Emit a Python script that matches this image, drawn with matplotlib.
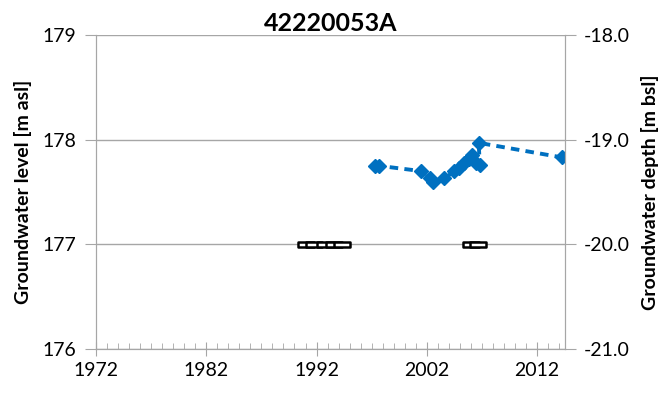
import matplotlib.pyplot as plt
from matplotlib.path import Path
from matplotlib.ticker import MultipleLocator

# Data
years = [1997.3, 1997.7, 2001.5, 2002.3, 2002.6, 2003.6, 2004.5, 2004.9,
         2005.4, 2005.8, 2006.1, 2006.5, 2006.8, 2006.7, 2014.3]
levels = [177.75, 177.75, 177.70, 177.63, 177.60, 177.63, 177.70, 177.73,
          177.78, 177.82, 177.85, 177.78, 177.76, 177.97, 177.83]

dry_years = [1991.0, 1991.8, 1992.8, 1993.6, 1994.3, 2006.0, 2006.6]
dry_levels = [177.0] * len(dry_years)

title = '42220053A'
xticks = [1972, 1982, 1992, 2002, 2012]
yticks_left = [176, 177, 178, 179]
yticks_right = ['-21.0', '-20.0', '-19.0', '-18.0']

blue = '#0070C0'
grey = '#A6A6A6'
plt.rcParams['font.family'] = ['Lato', 'DejaVu Sans']

fig = plt.figure(figsize=(6.62, 3.98), dpi=100)
ax = fig.add_axes([0.145, 0.123, 0.708, 0.789])

ax.plot(years, levels,
        linestyle=(0, (2.2, 1.6)), color=blue, linewidth=2.8,
        marker='D', markersize=7.5, markerfacecolor=blue, markeredgecolor=blue)

# wide hollow dash markers
dash = Path([(-1, -0.3), (1, -0.3), (1, 0.3), (-1, 0.3), (-1, -0.3)],
            [Path.MOVETO, Path.LINETO, Path.LINETO, Path.LINETO, Path.CLOSEPOLY])
ax.plot(dry_years, dry_levels, linestyle='none', marker=dash, markersize=12,
        markerfacecolor='white', markeredgecolor='black', markeredgewidth=1.8,
        zorder=3)

ax.set_xlim(1972, 2014.5)
ax.set_ylim(176, 179)
ax.set_xticks(xticks)
ax.xaxis.set_minor_locator(MultipleLocator(1))
ax.set_yticks(yticks_left)
ax.grid(axis='y', color=grey, linewidth=1)
ax.set_axisbelow(True)

for s in ['left', 'right', 'bottom']:
    ax.spines[s].set_color(grey)
ax.spines['top'].set_visible(False)

ax.tick_params(axis='x', which='major', direction='inout', length=10,
               color=grey, labelsize=14, pad=4)
ax.tick_params(axis='x', which='minor', direction='in', length=4, color=grey)
ax.tick_params(axis='y', direction='out', length=8, color=grey, labelsize=14,
               pad=6)
ax.set_ylabel('Groundwater level [m asl]', fontsize=14, fontweight='bold',
              labelpad=8)
ax.set_title(title, fontsize=18, fontweight='bold', pad=2)

ax2 = ax.twinx()
ax2.set_ylim(176, 179)
ax2.set_yticks(yticks_left)
ax2.set_yticklabels(yticks_right)
ax2.spines['top'].set_visible(False)
for s in ['left', 'right', 'bottom']:
    ax2.spines[s].set_color(grey)
ax2.tick_params(axis='y', direction='out', length=8, color=grey, labelsize=14,
                pad=6)
ax2.set_ylabel('Groundwater depth [m bsl]', fontsize=14, fontweight='bold',
               labelpad=8)

fig.savefig('out.png', dpi=100)
